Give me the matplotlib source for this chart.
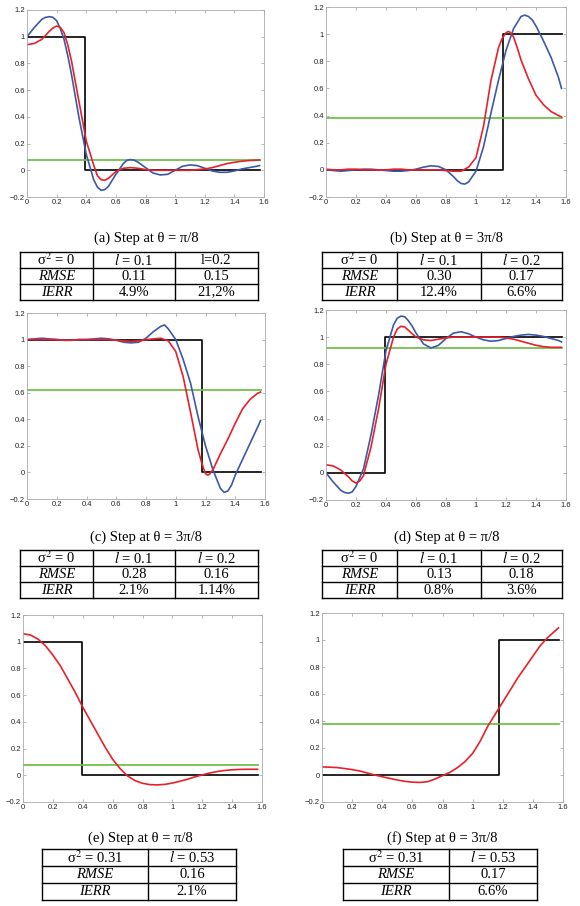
import numpy as np
import matplotlib
matplotlib.use('Agg')
from matplotlib import pyplot as plt

plt.rcParams['mathtext.fontset'] = 'stix'

# 数据 ***************************************************************
xs = [0.00, 0.05, 0.10, 0.15, 0.20, 0.25, 0.30, 0.35, 0.40, 0.45, 0.50,
      0.55, 0.60, 0.65, 0.70, 0.75, 0.80, 0.85, 0.90, 0.95, 1.00, 1.05,
      1.10, 1.15, 1.20, 1.25, 1.30, 1.35, 1.40, 1.45, 1.50, 1.55, 1.57]

a_red = [0.94, 0.95, 0.98, 1.04, 1.08, 1.03, 0.82, 0.52, 0.22, 0.04, -0.07,
         -0.06, -0.01, 0.015, 0.02, 0.015, 0.005, 0.0, 0.0, 0.0, 0.0, 0.0,
         0.0, 0.005, 0.01, 0.02, 0.035, 0.05, 0.06, 0.068, 0.073, 0.076, 0.077]
a_blue = [1.0, 1.07, 1.13, 1.15, 1.12, 0.98, 0.72, 0.40, 0.12, -0.07, -0.15,
          -0.12, -0.03, 0.05, 0.08, 0.06, 0.02, -0.02, -0.035, -0.03, 0.0, 0.03,
          0.04, 0.035, 0.015, -0.005, -0.015, -0.015, -0.005, 0.01, 0.02, 0.03, 0.035]

b_red = [0.005, 0.0, 0.0, 0.005, 0.005, 0.0, 0.0, 0.0, 0.0, 0.005, 0.005,
         0.0, 0.0, 0.0, 0.0, 0.0, -0.005, -0.01, -0.01, 0.02, 0.09, 0.32,
         0.66, 0.9, 1.01, 0.98, 0.81, 0.67, 0.55, 0.48, 0.43, 0.40, 0.39]
b_blue = [0.0, -0.005, -0.01, -0.005, 0.0, 0.005, 0.005, 0.0, -0.005, -0.01, -0.01,
          -0.005, 0.005, 0.02, 0.03, 0.025, 0.0, -0.05, -0.1, -0.09, -0.01, 0.17,
          0.42, 0.66, 0.88, 1.04, 1.13, 1.13, 1.06, 0.95, 0.83, 0.68, 0.6]

c_red = [1.0, 1.0, 1.0, 1.0, 1.0, 0.995, 0.995, 1.0, 1.0, 1.0, 1.0,
         1.0, 0.995, 0.99, 0.985, 0.99, 1.0, 1.005, 1.01, 0.99, 0.91, 0.72,
         0.45, 0.17, -0.01, 0.02, 0.14, 0.25, 0.37, 0.48, 0.55, 0.595, 0.605]
c_blue = [1.0, 1.005, 1.01, 1.005, 1.0, 0.995, 0.995, 1.0, 1.0, 1.005, 1.01,
          1.005, 0.995, 0.98, 0.975, 0.98, 1.01, 1.06, 1.1, 1.08, 1.0, 0.85,
          0.67, 0.42, 0.2, 0.02, -0.12, -0.14, -0.02, 0.1, 0.22, 0.34, 0.39]

d_red = [0.06, 0.05, 0.02, -0.03, -0.075, -0.02, 0.19, 0.47, 0.8, 1.0, 1.08,
         1.05, 1.0, 0.98, 0.975, 0.985, 0.995, 1.0, 1.0, 1.0, 1.0, 1.0,
         1.0, 1.0, 0.995, 0.985, 0.97, 0.955, 0.94, 0.93, 0.925, 0.925, 0.925]
d_blue = [0.0, -0.07, -0.13, -0.15, -0.1, 0.03, 0.28, 0.57, 0.9, 1.09, 1.155,
          1.12, 1.03, 0.95, 0.92, 0.94, 0.99, 1.03, 1.04, 1.025, 1.0, 0.98,
          0.97, 0.975, 0.99, 1.005, 1.015, 1.02, 1.015, 1.005, 0.99, 0.975, 0.965]

e_red = [1.06, 1.05, 1.02, 0.97, 0.9, 0.82, 0.72, 0.62, 0.51, 0.41, 0.31,
         0.21, 0.12, 0.05, -0.005, -0.04, -0.06, -0.07, -0.072, -0.068, -0.058, -0.045,
         -0.03, -0.012, 0.003, 0.017, 0.028, 0.036, 0.041, 0.044, 0.045, 0.045, 0.045]

f_red = [0.06, 0.058, 0.055, 0.048, 0.04, 0.03, 0.015, 0.0, -0.013, -0.025, -0.037,
         -0.047, -0.053, -0.055, -0.05, -0.03, -0.005, 0.02, 0.055, 0.1, 0.16, 0.25,
         0.36, 0.45, 0.54, 0.63, 0.72, 0.8, 0.88, 0.96, 1.02, 1.07, 1.09]

# 峰谷附近多读的点 (x, y)
a_red_extra = [(0.175, 1.065), (0.225, 1.07), (0.275, 0.94), (0.475, -0.04), (0.525, -0.075)]
a_blue_extra = [(0.125, 1.145), (0.175, 1.145), (0.225, 1.06), (0.275, 0.86),
                (0.475, -0.125), (0.525, -0.145), (0.675, 0.075), (0.725, 0.075)]
b_red_extra = [(1.175, 0.97), (1.215, 1.02), (1.225, 1.015), (1.275, 0.9)]
b_blue_extra = [(0.875, -0.08), (0.925, -0.105), (1.325, 1.14), (1.375, 1.105)]
c_red_extra = [(1.175, 0.07), (1.215, -0.02), (1.225, -0.015)]
c_blue_extra = [(0.925, 1.11), (1.325, -0.15), (1.375, -0.095)]
d_red_extra = [(0.175, -0.06), (0.225, -0.06), (0.475, 1.06), (0.525, 1.075)]
d_blue_extra = [(0.125, -0.145), (0.175, -0.14), (0.475, 1.14), (0.525, 1.15), (0.575, 1.08)]

# 阶跃位置、方向、常数均值线
step_at = [np.pi / 8, 3 * np.pi / 8, 3 * np.pi / 8, np.pi / 8, np.pi / 8, 3 * np.pi / 8]
step_up = [False, True, False, True, False, True]
green_level = [0.08, 0.38, 0.62, 0.92, 0.075, 0.38]
reds = [(a_red, a_red_extra), (b_red, b_red_extra), (c_red, c_red_extra),
        (d_red, d_red_extra), (e_red, []), (f_red, [])]
blues = [(a_blue, a_blue_extra), (b_blue, b_blue_extra), (c_blue, c_blue_extra),
         (d_blue, d_blue_extra), None, None]

captions = ['(a) Step at θ = π/8', '(b) Step at θ = 3π/8',
            '(c) Step at θ = 3π/8', '(d) Step at θ = π/8',
            '(e) Step at θ = π/8', '(f) Step at θ = 3π/8']

tab_a = [['σ$^2$ = 0', '$l$ = 0.1', 'l=0.2'], ['RMSE', '0.11', '0.15'], ['IERR', '4.9%', '21,2%']]
tab_b = [['σ$^2$ = 0', '$l$ = 0.1', '$l$ = 0.2'], ['RMSE', '0.30', '0.17'], ['IERR', '12.4%', '6.6%']]
tab_c = [['σ$^2$ = 0', '$l$ = 0.1', '$l$ = 0.2'], ['RMSE', '0.28', '0.16'], ['IERR', '2.1%', '1.14%']]
tab_d = [['σ$^2$ = 0', '$l$ = 0.1', '$l$ = 0.2'], ['RMSE', '0.13', '0.18'], ['IERR', '0.8%', '3.6%']]
tab_e = [['σ$^2$ = 0.31', '$l$ = 0.53'], ['RMSE', '0.16'], ['IERR', '2.1%']]
tab_f = [['σ$^2$ = 0.31', '$l$ = 0.53'], ['RMSE', '0.17'], ['IERR', '6.6%']]
tables = [tab_a, tab_b, tab_c, tab_d, tab_e, tab_f]

# 版面 (像素) *********************************************************
W, H = 580, 906
ax_px = [(27, 264, 10, 197), (326, 566, 7, 197),
         (27, 265, 313, 499), (326, 566, 310, 500),
         (23, 262, 615, 802), (322, 563, 613, 802)]
cap_px = [(146, 238), (447, 238), (146, 537), (447, 537), (140, 838), (442, 838)]
tab_cols = [[20, 93, 175, 258], [322, 397, 481, 562],
            [20, 93, 175, 258], [322, 397, 481, 562],
            [42, 148, 236], [343, 449, 537]]
tab_rows = [[252, 268, 284, 300], [252, 268, 284, 300],
            [550, 566, 582, 598], [550, 566, 582, 598],
            [849, 866, 883, 900], [849, 866, 883, 900]]

col_red, col_blue, col_green = '#e8202a', '#3a5aa8', '#72c04e'


def merged(ys, extra):
    # 网格点和峰谷点合在一起按 x 排序
    pts = sorted(list(zip(xs, ys)) + list(extra))
    return [p[0] for p in pts], [p[1] for p in pts]


fig = plt.figure(figsize=(W / 100, H / 100), dpi=100)

xt = [0, 0.2, 0.4, 0.6, 0.8, 1.0, 1.2, 1.4, 1.6]
yt = [-0.2, 0, 0.2, 0.4, 0.6, 0.8, 1.0, 1.2]
fmt = lambda v: ('%g' % v).replace('-', '−') if v != 0 else '0'

for i in range(6):
    l, r, t, b = ax_px[i]
    ax = fig.add_axes([l / W, 1 - b / H, (r - l) / W, (b - t) / H])
    ax.set_xlim(0, 1.6)
    ax.set_ylim(-0.2, 1.2)
    s = step_at[i]
    lo, hi = (0, 1) if step_up[i] else (1, 0)
    ax.plot([0, s, s, np.pi / 2], [lo, lo, hi, hi], c='k', lw=1.2)
    ax.plot([0, np.pi / 2], [green_level[i]] * 2, c=col_green, lw=1.3)
    if blues[i] is not None:
        bx, by = merged(*blues[i])
        ax.plot(bx, by, c=col_blue, lw=1.2, solid_joinstyle='round')
    rx, ry = merged(*reds[i])
    ax.plot(rx, ry, c=col_red, lw=1.2, solid_joinstyle='round')
    ax.set_xticks(xt)
    ax.set_yticks(yt)
    ax.set_xticklabels([fmt(v) for v in xt])
    ax.set_yticklabels([fmt(v) for v in yt])
    ax.tick_params(direction='in', length=2.5, width=0.5, color='#999999',
                   labelsize=5.5, pad=1.5, top=True, right=True,
                   labelcolor='#222222')
    for lab in ax.get_xticklabels() + ax.get_yticklabels():
        lab.set_family('Liberation Sans')
    for sp in ax.spines.values():
        sp.set_color('#aaaaaa')
        sp.set_linewidth(0.6)

# 标题和表格
ov = fig.add_axes([0, 0, 1, 1])
ov.set_xlim(0, W)
ov.set_ylim(H, 0)
ov.axis('off')
for i in range(6):
    ov.text(cap_px[i][0], cap_px[i][1], captions[i], ha='center', va='center',
            fontsize=10.5, family='Liberation Serif')
    cols, rows = tab_cols[i], tab_rows[i]
    for y in rows:
        ov.plot([cols[0], cols[-1]], [y, y], c='k', lw=1.0)
    for x in cols:
        ov.plot([x, x], [rows[0], rows[-1]], c='k', lw=1.0)
    for ri, row in enumerate(tables[i]):
        for ci, txt in enumerate(row):
            cx = (cols[ci] + cols[ci + 1]) / 2
            cy = (rows[ri] + rows[ri + 1]) / 2
            st = 'italic' if ci == 0 and ri > 0 else 'normal'
            ov.text(cx, cy, txt, ha='center', va='center', fontsize=10.5,
                    family='Liberation Serif', style=st)

plt.savefig('out.png', dpi=100)
